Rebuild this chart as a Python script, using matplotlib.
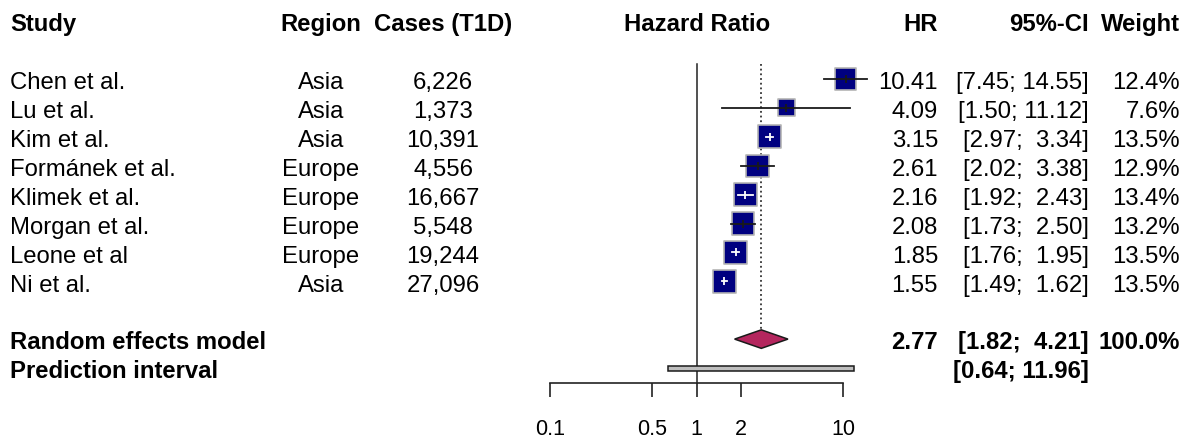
import numpy as np
import matplotlib.pyplot as plt
from matplotlib.patches import Polygon
from matplotlib.ticker import NullLocator

plt.rcParams['font.family'] = ['Liberation Sans', 'DejaVu Sans']

# data
studies = ["Chen et al.", "Lu et al.", "Kim et al.", "Formánek et al.",
           "Klimek et al.", "Morgan et al.", "Leone et al", "Ni et al."]
regions = ["Asia", "Asia", "Asia", "Europe", "Europe", "Europe", "Europe", "Asia"]
cases = ["6,226", "1,373", "10,391", "4,556", "16,667", "5,548", "19,244", "27,096"]
hr = [10.41, 4.09, 3.15, 2.61, 2.16, 2.08, 1.85, 1.55]
ci_low = [7.45, 1.50, 2.97, 2.02, 1.92, 1.73, 1.76, 1.49]
ci_high = [14.55, 11.12, 3.34, 3.38, 2.43, 2.50, 1.95, 1.62]
weights = [12.4, 7.6, 13.5, 12.9, 13.4, 13.2, 13.5, 13.5]
re_hr, re_low, re_high = 2.77, 1.82, 4.21
pi_low, pi_high = 0.64, 11.96
ticks = [0.1, 0.5, 1, 2, 10]
tick_labels = ["0.1", "0.5", "1", "2", "10"]

# layout (pixels)
W, H = 1189, 439
row0, row_h = 22.2, 28.9
ylim = ((H - row0) / row_h, -row0 / row_h)
x_one, decade = 696.5, 146.5
fx0, fx1 = 530, 880
fs = 17.2
base = 0.32  # baseline offset below row centre (rows)

fig = plt.figure(figsize=(W / 100, H / 100), dpi=100)

tax = fig.add_axes([0, 0, 1, 1])
tax.set_xlim(0, W)
tax.set_ylim(ylim)
tax.axis('off')

fax = fig.add_axes([fx0 / W, 0, (fx1 - fx0) / W, 1])
fax.set_xscale('log')
fax.set_xlim(10 ** ((fx0 - x_one) / decade), 10 ** ((fx1 - x_one) / decade))
fax.set_ylim(ylim)
fax.patch.set_visible(False)
for s in ['top', 'left', 'right']:
    fax.spines[s].set_visible(False)
fax.spines['bottom'].set_position(('data', 12.52))
fax.spines['bottom'].set_bounds(0.1, 10)
fax.spines['bottom'].set_linewidth(1.2)
fax.spines['bottom'].set_color('#222222')
fax.set_yticks([])
fax.set_xticks(ticks, tick_labels)
fax.xaxis.set_minor_locator(NullLocator())
fax.tick_params(axis='x', direction='out', length=10, width=1.2, color='#222222',
                labelsize=15.5, pad=15.5)

# reference lines
top_row = 1.48
dh = 0.32
fax.plot([1, 1], [top_row, 12.52], color='#222222', lw=1.1, zorder=1)
fax.plot([re_hr, re_hr], [top_row, 11 - dh], color='#333333', lw=1.3,
         linestyle=(0, (1, 1.6)), zorder=1)

# study squares and CIs
rows = np.arange(2, 2 + len(studies))
side_px = 22.7 * np.sqrt(np.array(weights) / 13.5)
fax.scatter(hr, rows, marker='s', s=(side_px * 0.72) ** 2, color='#000080',
            edgecolor='#B4B4B4', linewidth=1.2, zorder=3)
for r, h, lo, hi, sp in zip(rows, hr, ci_low, ci_high, side_px):
    c = decade * np.log10(h)
    inside = (decade * np.log10(lo) >= c - sp / 2) and (decade * np.log10(hi) <= c + sp / 2)
    col = 'white' if inside else '#1a1a1a'
    fax.plot([lo, hi], [r, r], color=col, lw=1.3, zorder=4)
    fax.plot([h], [r], marker='|', ms=5.5, mew=1.3, color=col, zorder=4)

# summary diamond
fax.add_patch(Polygon([(re_low, 11), (re_hr, 11 - dh), (re_high, 11), (re_hr, 11 + dh)],
                      closed=True, facecolor='#B4265E', edgecolor='#1a1a1a', lw=1.1, zorder=3))

# prediction interval
fax.barh(12.02, pi_high - pi_low, left=pi_low, height=0.17, color='#BEBEBE',
         edgecolor='#1a1a1a', linewidth=1.1, zorder=3)

# text columns
def put(x, r, s, ha, bold=False):
    tax.text(x, r + base, s, ha=ha, va='baseline', fontsize=fs,
             fontweight='bold' if bold else 'normal', color='black')

put(10, 0, "Study", 'left', True)
put(321, 0, "Region", 'center', True)
put(443, 0, "Cases (T1D)", 'center', True)
put(697, 0, "Hazard Ratio", 'center', True)
put(938, 0, "HR", 'right', True)
put(1089, 0, "95%-CI", 'right', True)
put(1180, 0, "Weight", 'right', True)

for r, st, rg, cs, h, lo, hi, w in zip(rows, studies, regions, cases, hr, ci_low, ci_high, weights):
    put(10, r, st, 'left')
    put(321, r, rg, 'center')
    put(443, r, cs, 'center')
    put(938, r, f"{h:.2f}", 'right')
    put(1089, r, f"[{lo:.2f}; {hi:5.2f}]", 'right')
    put(1180, r, f"{w:.1f}%", 'right')

put(10, 11, "Random effects model", 'left', True)
put(938, 11, f"{re_hr:.2f}", 'right', True)
put(1089, 11, f"[{re_low:.2f}; {re_high:5.2f}]", 'right', True)
put(1180, 11, f"{sum(weights):.1f}%", 'right', True)
put(10, 12, "Prediction interval", 'left', True)
put(1089, 12, f"[{pi_low:.2f}; {pi_high:5.2f}]", 'right', True)

fig.savefig("out.png", dpi=100)
plt.close(fig)
